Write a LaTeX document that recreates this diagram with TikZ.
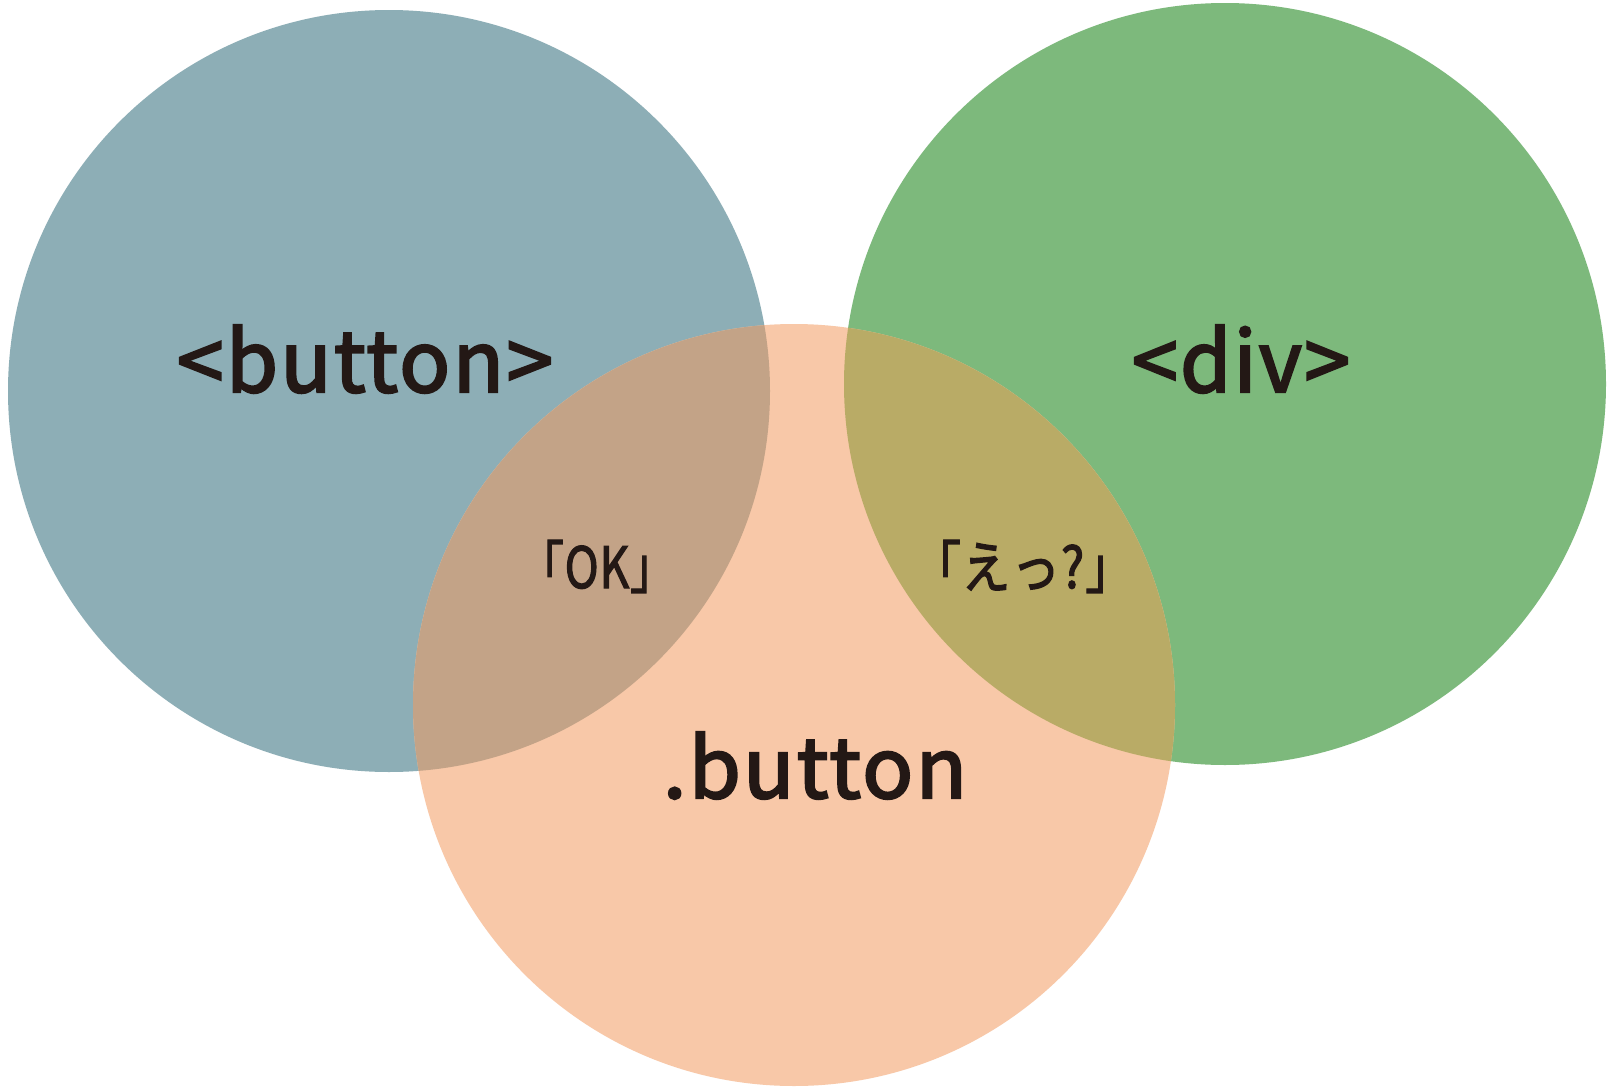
\documentclass[tikz,border=0pt]{standalone}
\usepackage{fontspec}
\usepackage{graphicx}
\newfontfamily\jpfont[LetterSpace=3,FakeBold=2.8]{Noto Sans CJK JP}
\newfontfamily\jpsmall[LetterSpace=2,FakeBold=2.4]{Noto Sans CJK JP}
\definecolor{blueC}{HTML}{8DAEB6}
\definecolor{greenC}{HTML}{7DB97C}
\definecolor{peachC}{HTML}{F8C8A8}
\definecolor{bpC}{HTML}{C3A387}
\definecolor{gpC}{HTML}{B9AB66}
\definecolor{textC}{HTML}{231815}
\tikzset{
  biglabel/.style={anchor=base, inner sep=0pt, text=textC, font=\jpfont},
  smalllabel/.style={anchor=base, inner sep=0pt, text=textC, font=\jpsmall}
}
\begin{document}
\begin{tikzpicture}[x=1pt,y=-1pt]
\useasboundingbox (0,0) rectangle (1618,1092);
\fill[white] (0,0) rectangle (1618,1092);
% circles
\fill[blueC]  (389,391) circle[radius=381pt];
\fill[greenC] (1225,384) circle[radius=381pt];
\fill[peachC] (794,705) circle[radius=381pt];
% overlaps
\begin{scope}
  \clip (389,391) circle[radius=381pt];
  \fill[bpC] (794,705) circle[radius=381pt];
\end{scope}
\begin{scope}
  \clip (1225,384) circle[radius=381pt];
  \fill[gpC] (794,705) circle[radius=381pt];
\end{scope}
% labels
\node[biglabel] (lbutton) at (365,392) {\resizebox{376pt}{67pt}{<button>}};
\node[biglabel] (ldiv) at (1241,392) {\resizebox{218pt}{67pt}{<div>}};
\node[biglabel] (lclass) at (815,798) {\resizebox{304pt}{66pt}{.button}};
\node[smalllabel] (lok) at (597,588) {\resizebox{112pt}{48pt}{｢OK｣}};
\node[smalllabel] (leh) at (1023,588) {\resizebox{173pt}{48pt}{｢えっ?｣}};
\end{tikzpicture}
\end{document}
